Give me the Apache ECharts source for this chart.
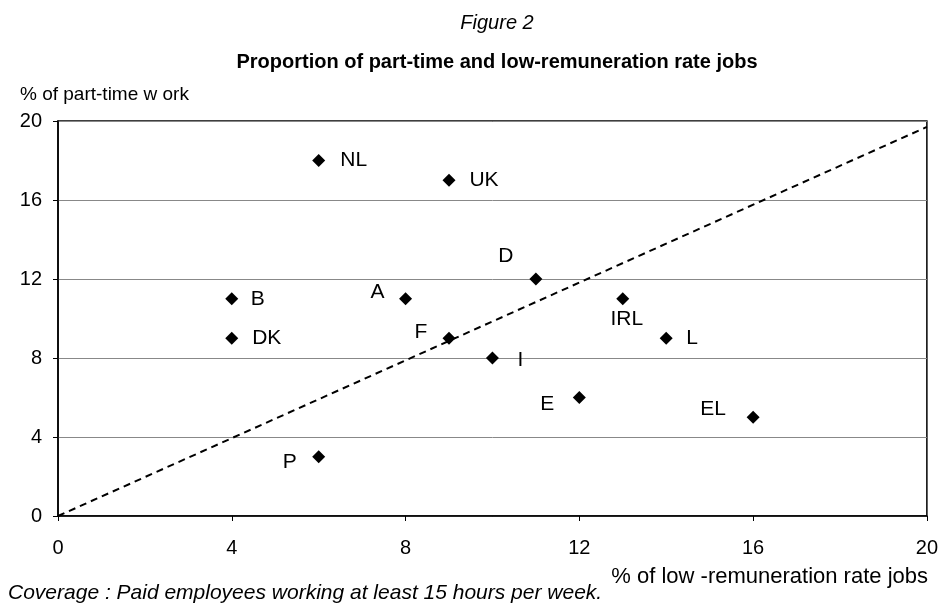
<!DOCTYPE html>
<html>
<head>
<meta charset="utf-8">
<script src="https://cdn.jsdelivr.net/npm/echarts@6/dist/echarts.min.js"></script>
<style>html,body{margin:0;padding:0;background:#fff}#c{width:941px;height:604px}</style>
</head>
<body>
<div id="c"></div>
<script>
// Data
var countries = ['NL','UK','D','A','B','DK','F','I','IRL','L','E','EL','P'];
var lowRemuneration = [6, 9, 11, 8, 4, 4, 9, 10, 13, 14, 12, 16, 6];
var partTime = [18, 17, 12, 11, 11, 9, 9, 8, 11, 9, 6, 5, 3];
var refLineX = [0, 20];
var refLineY = [0, 19.7];
var xTicks = [0, 4, 8, 12, 16, 20];
var yTicks = [0, 4, 8, 12, 16, 20];

// Label placement (style, not data)
var labelOffsets = {
  NL:[35,0], UK:[35,0], D:[-30,-23], A:[-28,-7], B:[26,0], DK:[35,0],
  F:[-28,-6], I:[28,2], IRL:[4,20], L:[26,0], E:[-32,7], EL:[-40,-8], P:[-29,5]
};

var font = '"Liberation Sans", Arial, sans-serif';
var pts = countries.map(function(c, i){
  return {
    value:[lowRemuneration[i], partTime[i]],
    name:c,
    label:{offset: labelOffsets[c]}
  };
});

function txt(text, x, y, size, align, extra){
  return {type:'text', silent:true, z:10, style:{
    text:text, x:x, y:y, fill:'#000', align:align, verticalAlign:'middle',
    font:(extra||'') + ' ' + size + 'px ' + font
  }};
}

var chart = echarts.init(document.getElementById('c'));
chart.setOption({
  backgroundColor:'#fff',
  animation:false,
  graphic:[
    txt('Figure 2', 497, 23, 20, 'center', 'italic'),
    txt('Proportion of part-time and low-remuneration rate jobs', 497, 62, 20, 'center', 'bold'),
    txt('% of part-time w ork', 20, 95, 19, 'left'),
    txt('% of low -remuneration rate jobs', 928, 577, 22, 'right'),
    txt('Coverage : Paid employees working at least 15 hours per week.', 8, 593, 21, 'left', 'italic')
  ],
  grid:{left:58, right:13, top:121, bottom:88, show:true, borderColor:'#000', borderWidth:1.5, backgroundColor:'transparent'},
  xAxis:{
    type:'value', min:xTicks[0], max:xTicks[xTicks.length-1], interval:4,
    axisLine:{lineStyle:{color:'#000', width:1.5}},
    axisTick:{show:true, inside:false, length:5, lineStyle:{color:'#000'}},
    axisLabel:{fontFamily:font, fontSize:20, color:'#000', margin:22},
    splitLine:{show:false}
  },
  yAxis:{
    type:'value', min:yTicks[0], max:yTicks[yTicks.length-1], interval:4,
    axisLine:{show:true, lineStyle:{color:'#000', width:1.5}},
    axisTick:{show:true, inside:false, length:5, lineStyle:{color:'#000'}},
    axisLabel:{fontFamily:font, fontSize:20, color:'#000', margin:16},
    splitLine:{show:true, lineStyle:{color:'#888', width:1}}
  },
  series:[
    {
      type:'line',
      data:refLineX.map(function(x,i){return [x, refLineY[i]];}),
      symbol:'none',
      lineStyle:{color:'#000', width:2, type:[7,5]},
      silent:true, z:2
    },
    {
      type:'scatter',
      data:pts,
      symbol:'diamond',
      symbolSize:13,
      itemStyle:{color:'#000', opacity:1},
      label:{show:true, position:'inside', formatter:'{b}', color:'#000', textBorderWidth:0,
             fontFamily:font, fontSize:21, align:'center', verticalAlign:'middle'},
      emphasis:{disabled:true},
      z:3
    }
  ]
});
</script>
</body>
</html>
